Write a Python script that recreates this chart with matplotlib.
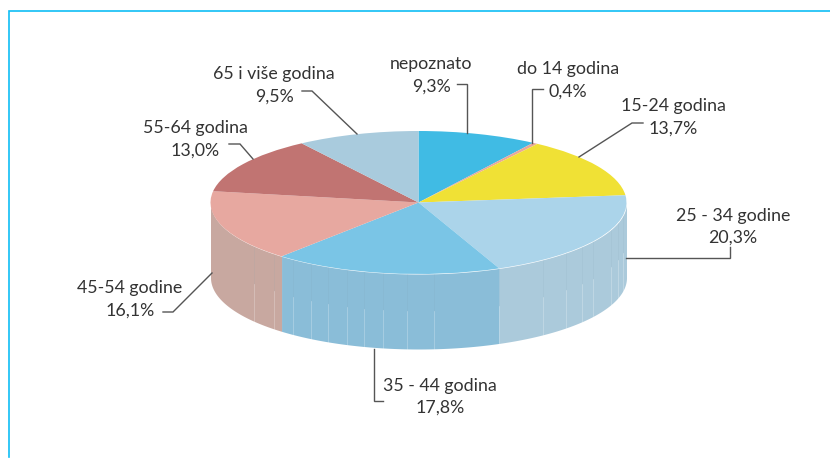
import matplotlib
matplotlib.use('Agg')
import matplotlib.pyplot as plt
import numpy as np

labels = ['nepoznato', 'do 14 godina', '15-24 godina', '25 - 34 godine', '35 - 44 godina',
          '45-54 godine', '55-64 godina', '65 i više godina']
values = [9.3, 0.4, 13.7, 20.3, 17.8, 16.1, 13.0, 9.5]
pct_labels = ['9,3%', '0,4%', '13,7%', '20,3%', '17,8%', '16,1%', '13,0%', '9,5%']
top_colors = ['#40BBE4', '#E8A89C', '#F0E135', '#ABD4EA', '#7AC5E6', '#E7A8A0', '#C17472', '#A9CBDD']
side_colors = ['#40BBE4', '#E8A89C', '#F0E135', '#ABCADB', '#8ABDD8', '#C8A8A0', '#C17472', '#A9CBDD']

# pixel geometry of the flattened pie
W, H = 830, 458
cx, cy, rx, ry, depth = 418.5, 202.5, 208, 71.5, 75

# leader lines, in pixels
leaders = [
    [(467, 133), (467, 84), (457, 84)],
    [(532, 143), (532, 89), (543, 89)],
    [(579, 157), (632, 123), (643, 123)],
    [(626, 258), (730, 258), (730, 247)],
    [(374, 349), (374, 401), (383, 401)],
    [(212, 273), (173, 312), (163, 312)],
    [(253, 159), (240, 144), (229, 144)],
    [(357, 134), (312, 91), (302, 91)],
]
# text centre x, name y, percent y
text_pos = [(431, 64, 87), (568, 69, 92), (673, 106, 129), (733, 216, 238),
            (440, 386, 408), (130, 288, 311), (195, 128, 151), (274, 74, 97)]
# faint vertical seams on the wall
seams = [254, 274, 293, 311, 328, 347, 364, 383, 407, 434, 499, 543, 566, 582, 593, 611, 618, 623]

plt.rcParams['font.family'] = ['Lato', 'DejaVu Sans']
fig = plt.figure(figsize=(W / 100, H / 100), dpi=100)
ax = fig.add_axes([0, 0, 1, 1])
ax.pie(values, colors=top_colors, startangle=90, counterclock=False, radius=1,
       wedgeprops={'linewidth': 0, 'zorder': 5})
ax.set_aspect('auto')
ax.set_xlim((0 - cx) / rx, (W - cx) / rx)
ax.set_ylim((cy - H) / ry, cy / ry)
ax.axis('off')


def px(x, y):
    return (x - cx) / rx, (cy - y) / ry


# side wall
d = depth / ry
edges = np.cumsum([0] + values) / sum(values) * 2 * np.pi
for i in range(len(values)):
    a0, a1 = edges[i], edges[i + 1]
    # angle measured clockwise from the top; wall only on the front half
    a0 = max(a0, np.pi / 2)
    a1 = min(a1, 3 * np.pi / 2)
    if a1 <= a0:
        continue
    t = np.linspace(a0, a1, 80)
    x = np.sin(t)
    y = np.cos(t)
    ax.fill_between(x, y, y - d, color=side_colors[i], lw=0, zorder=2)

for sx in seams:
    u = (sx - cx) / rx
    y_top = -np.sqrt(1 - u ** 2)
    ax.plot([u, u], [y_top, y_top - 0.5 * d], color='#7F9FB0', lw=0.4, alpha=0.18, zorder=3)
    ax.plot([u, u], [y_top - 0.5 * d, y_top - d], color='white', lw=0.6, alpha=0.28, zorder=3)

for pts in leaders:
    xy = [px(*p) for p in pts]
    ax.plot([p[0] for p in xy], [p[1] for p in xy], color='#555555', lw=1.0, zorder=6,
            solid_joinstyle='miter')

for i in range(len(labels)):
    tx, y1, y2 = text_pos[i]
    ax.text(*px(tx, y1), labels[i], ha='center', va='center', fontsize=12.8, color='#333333')
    ax.text(*px(tx, y2), pct_labels[i], ha='center', va='center', fontsize=12.8, color='#333333')

# cyan page frame
ax.plot(*zip(px(8.5, 457), px(8.5, 10.5), px(W, 10.5)), color='#0FBDF5', lw=1.2, zorder=1,
        solid_joinstyle='miter', clip_on=False)

fig.savefig('out.png', dpi=100)
